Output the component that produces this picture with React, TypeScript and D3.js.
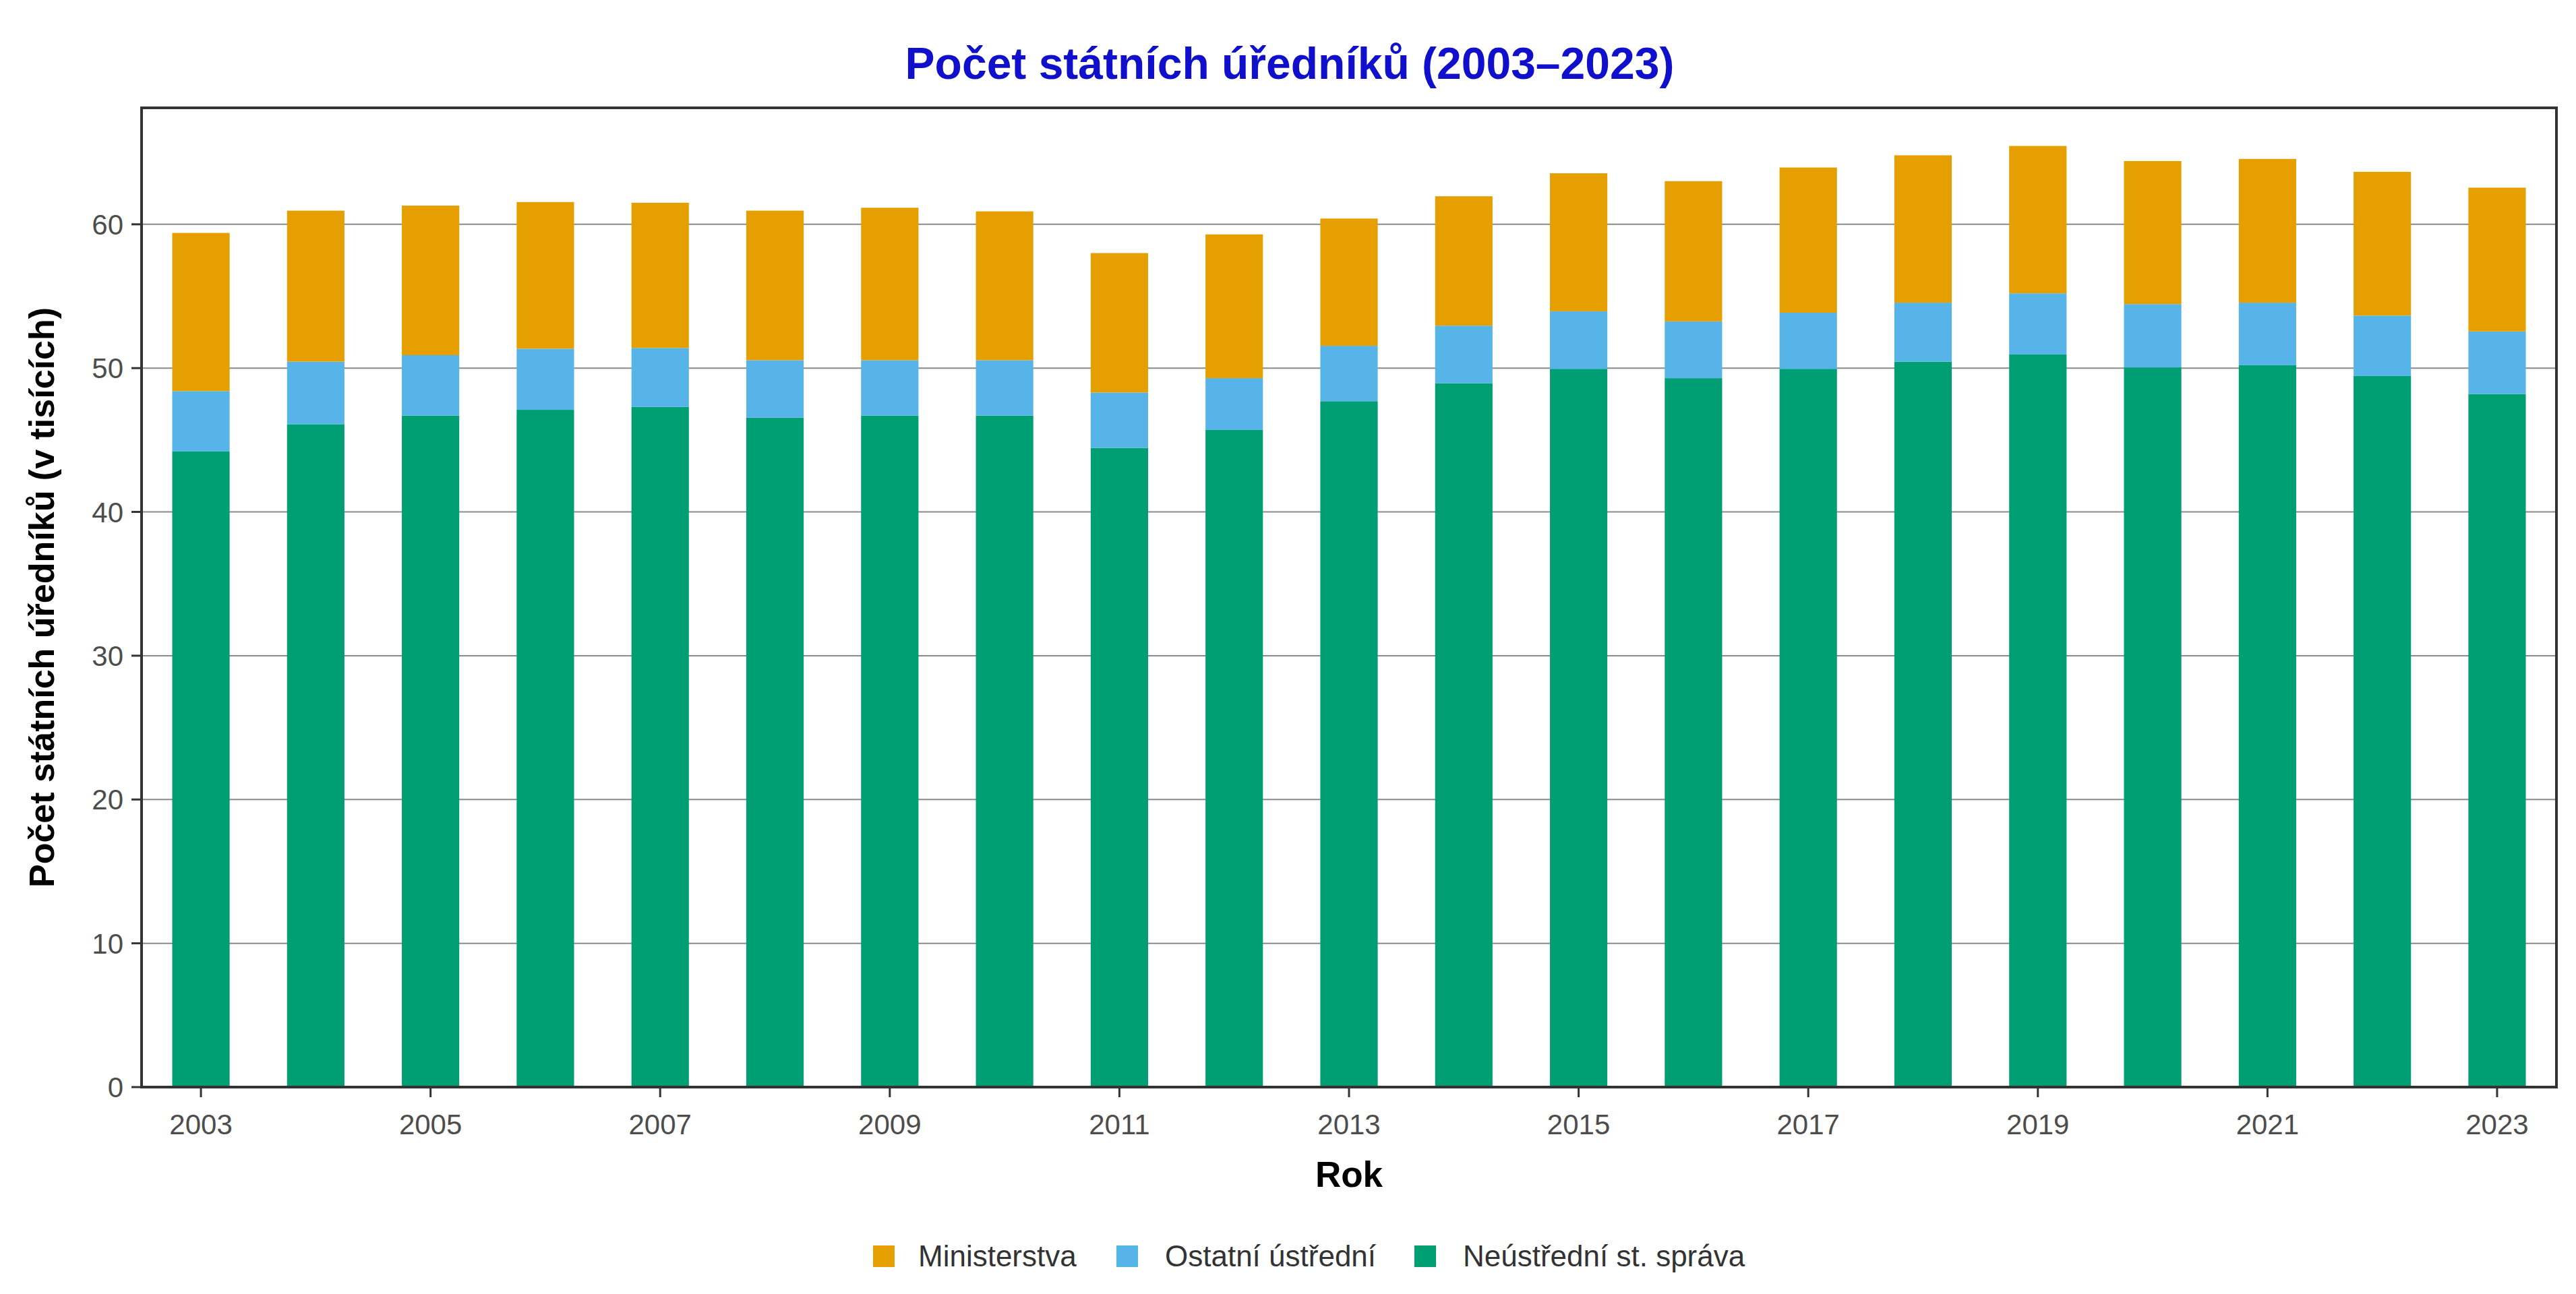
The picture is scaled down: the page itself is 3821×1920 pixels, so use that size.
import React from 'react';
import * as d3 from 'd3';

// years on the x axis
const years = [
  2003, 2004, 2005, 2006, 2007, 2008, 2009, 2010, 2011, 2012,
  2013, 2014, 2015, 2016, 2017, 2018, 2019, 2020, 2021, 2022, 2023,
];

// thousands of officials
const neustredni = [
  44.2, 46.1, 46.7, 47.1, 47.3, 46.55, 46.7, 46.7, 44.45, 45.7,
  47.7, 48.95, 49.95, 49.3, 49.95, 50.45, 50.95, 50.05, 50.2, 49.45, 48.2,
];
const ostatni = [
  4.2, 4.35, 4.2, 4.25, 4.1, 4.0, 3.85, 3.85, 3.85, 3.6,
  3.85, 4.0, 4.0, 3.95, 3.9, 4.1, 4.25, 4.4, 4.35, 4.2, 4.35,
];
const ministerstva = [
  11.0, 10.5, 10.4, 10.2, 10.1, 10.4, 10.6, 10.35, 9.7, 10.0,
  8.85, 9.0, 9.6, 9.75, 10.1, 10.25, 10.25, 9.95, 10.0, 10.0, 10.0,
];

const seriesKeys = ['neustredni', 'ostatni', 'ministerstva'];
const seriesLabels = {
  ministerstva: 'Ministerstva',
  ostatni: 'Ostatní ústřední',
  neustredni: 'Neústřední st. správa',
};
const seriesColors = {
  ministerstva: '#E69F00',
  ostatni: '#56B4E9',
  neustredni: '#009E73',
};
const legendOrder = ['ministerstva', 'ostatni', 'neustredni'];

const yTicks = [0, 10, 20, 30, 40, 50, 60];
const xTicks = [2003, 2005, 2007, 2009, 2011, 2013, 2015, 2017, 2019, 2021, 2023];

const W = 3821, H = 1920;
const left = 210, right = 3792, top = 160, bottom = 1613;
const FONT = '"Liberation Sans", Arial, sans-serif';

export default function App() {
  const rows = years.map((y, i) => ({
    year: y,
    neustredni: neustredni[i],
    ostatni: ostatni[i],
    ministerstva: ministerstva[i],
  }));
  const stacked = d3.stack().keys(seriesKeys)(rows);

  const x = d3.scaleLinear().domain([2002.483, 2023.517]).range([left, right]);
  const y = d3.scaleLinear().domain([0, 68.1]).range([bottom, top]);
  const barW = x(2003.25) - x(2002.75);

  // legend key positions (square x, label x)
  const legendX = { ministerstva: [1295, 1362], ostatni: [1656, 1728], neustredni: [2098, 2170] };

  return (
    <svg width={W} height={H} style={{ display: 'block', position: 'absolute', left: 0, top: 0 }} fontFamily={FONT}>
      <rect x={0} y={0} width={W} height={H} fill="#fff" />
      <text x={1913} y={117} textAnchor="middle" fontSize={66} fontWeight="bold" fill="#0F0FCC">
        Počet státních úředníků (2003–2023)
      </text>

      {/* gridlines */}
      {yTicks.map(t => (
        <line key={'g' + t} x1={left} x2={right} y1={y(t)} y2={y(t)} stroke="#8a8a8a" strokeWidth={2} />
      ))}

      {/* bars */}
      {stacked.map(s => (
        <g key={s.key} fill={seriesColors[s.key]}>
          {s.map((d, i) => (
            <rect key={i} x={x(years[i]) - barW / 2} y={y(d[1])} width={barW} height={y(d[0]) - y(d[1])} />
          ))}
        </g>
      ))}

      {/* panel border */}
      <rect x={left} y={top} width={right - left} height={bottom - top} fill="none" stroke="#333" strokeWidth={4} />

      {/* y axis */}
      {yTicks.map(t => (
        <g key={'y' + t}>
          <line x1={left - 15} x2={left} y1={y(t)} y2={y(t)} stroke="#333" strokeWidth={3} />
          <text x={183} y={y(t)} dy="0.36em" textAnchor="end" fontSize={42} fill="#4d4d4d">{t}</text>
        </g>
      ))}

      {/* x axis */}
      {xTicks.map(t => (
        <g key={'x' + t}>
          <line x1={x(t)} x2={x(t)} y1={bottom} y2={bottom + 15} stroke="#333" strokeWidth={3} />
          <text x={x(t)} y={1683} textAnchor="middle" fontSize={42} fill="#4d4d4d">{t}</text>
        </g>
      ))}

      <text x={(left + right) / 2} y={1761} textAnchor="middle" fontSize={53} fontWeight="bold" fill="#000">Rok</text>
      <text transform={`translate(80, ${(top + bottom) / 2}) rotate(-90)`} textAnchor="middle" fontSize={52} fontWeight="bold" fill="#000">
        Počet státních úředníků (v tisících)
      </text>

      {/* legend */}
      {legendOrder.map(k => (
        <g key={'l' + k}>
          <rect x={legendX[k][0]} y={1848} width={32} height={32} fill={seriesColors[k]} />
          <text x={legendX[k][1]} y={1879} fontSize={44} fill="#333">{seriesLabels[k]}</text>
        </g>
      ))}
    </svg>
  );
}
